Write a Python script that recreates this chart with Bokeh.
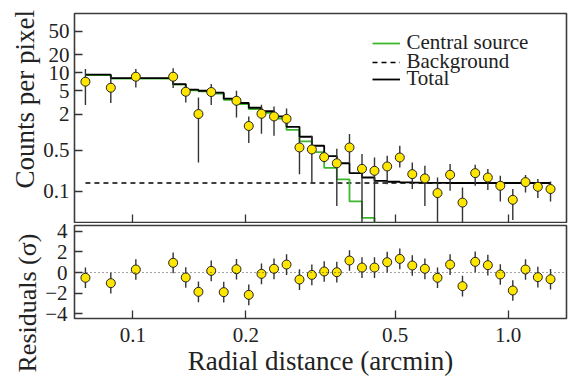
from bokeh.plotting import figure
from bokeh.layouts import column
from bokeh.models import (ColumnDataSource, FixedTicker, Legend, LegendItem,
                          Range1d, Span, Title)
from bokeh.embed import file_html
from bokeh.resources import INLINE

# ---------------- data ----------------
radius = [0.0748, 0.0874, 0.1019, 0.1281, 0.1384, 0.1496, 0.1618, 0.1747,
          0.1889, 0.2037, 0.2202, 0.2378, 0.2568, 0.2780, 0.2999, 0.3235,
          0.3495, 0.3778, 0.4079, 0.4404, 0.4761, 0.5143, 0.5553, 0.5999,
          0.6482, 0.7002, 0.7555, 0.8168, 0.8826, 0.9528, 1.0285, 1.1120,
          1.1994, 1.2964]
counts = [7.08, 5.61, 8.6, 8.6, 4.8, 2.02, 4.75, float("nan"),
          3.38, 1.27, 2.04, 1.84, 1.68, 0.552, 0.511, 0.38,
          0.299, 0.552, 0.241, 0.223, 0.264, 0.374, 0.196, 0.166,
          0.094, 0.191, 0.065, 0.204, 0.172, 0.125, 0.0724, 0.144,
          0.120, 0.110]
counts_hi = [11.6, 8.6, 11.6, 11.9, 6.06, 3.85, 6.47, float("nan"),
             4.99, 1.84, 2.9, 2.71, 2.51, 0.814, 0.869, 0.46,
             0.525, 0.929, 0.427, 0.374, 0.40, 0.59, 0.308, 0.271,
             0.172, 0.29, 0.117, 0.282, 0.239, 0.184, 0.110, 0.189,
             0.162, 0.147]
counts_lo = [2.86, 3.1, 5.67, 5.54, 3.17, 0.308, 2.86, float("nan"),
             1.77, 0.655, 0.94, 0.87, 1.28, 0.196, 0.142, 0.31,
             0.057, 0.297, 0.01, 0.01, 0.133, 0.254, 0.11, 0.057,
             0.01, 0.103, 0.01, 0.125, 0.106, 0.068, 0.033, 0.096,
             0.0774, 0.068]
model_total = [9.29, 8.11, 8.11, 6.47, 5.19, 4.99, 4.62, 3.66,
               3.10, 2.58, 2.25, 1.84, 1.23, 0.836, 0.59, 0.393,
               0.299, 0.204, 0.172, 0.151, 0.146, 0.142, 0.141, 0.140,
               0.140, 0.139, 0.139, 0.139, 0.139, 0.139, 0.139, 0.139,
               0.139, 0.139]
model_central = [9.15, 7.97, 7.97, 6.33, 5.05, 4.85, 4.48, 3.52,
                 2.96, 2.44, 2.11, 1.70, 1.09, 0.70, 0.46, 0.25,
                 0.16, 0.068, 0.036, 0.012, 0.006]
background = [0.1386] * len(radius)
residuals = [-0.51, -1.03, 0.29, 0.94, -0.48, -1.87, 0.16, -1.90,
             0.32, -2.16, -0.13, 0.36, 0.77, -0.68, -0.23, 0.10,
             0.03, 1.16, 0.48, 0.48, 1.00, 1.32, 0.68, 0.36,
             -0.51, 0.77, -1.32, 1.03, 0.71, -0.19, -1.74, 0.29,
             -0.45, -0.65]
residual_err = [1.0] * len(radius)

x_ticks = [0.1, 0.2, 0.5, 1.0]
x_tick_labels = ["0.1", "0.2", "0.5", "1.0"]
y_ticks_top = [0.1, 0.5, 2, 5, 10, 20, 50]
y_tick_labels_top = ["0.1", "0.5", "2", "5", "10", "20", "50"]
y_ticks_res = [-4, -2, 0, 2, 4]
y_tick_labels_res = ["\u22124", "\u22122", "0", "2", "4"]

legend_labels = ["Central source", "Background", "Total"]
y_title_top = "Counts per pixel"
y_title_res = "Residuals (\u03c3)"
x_title = "Radial distance (arcmin)"

# ---------------- styling ----------------
FONT = "Liberation Serif"
FRAME = "#3c3c3c"
TXT = "#222222"
YELLOW = "#ffe600"
GREEN = "#3cb82e"


def key(t):
    return int(t) if float(t).is_integer() else t


def style_axis(ax, ticks, labels, show_labels=True):
    ax.ticker = FixedTicker(ticks=[key(t) for t in ticks])
    if show_labels:
        ax.major_label_overrides = {key(t): l for t, l in zip(ticks, labels)}
        ax.major_label_text_font_size = "21px"
    else:
        ax.major_label_overrides = {key(t): "" for t in ticks}
        ax.major_label_text_font_size = "1px"
        ax.major_label_standoff = 0
    ax.major_tick_in = 8
    ax.major_tick_out = 0
    ax.minor_tick_line_color = None
    ax.major_tick_line_color = "#333333"
    ax.major_tick_line_width = 1.3
    ax.axis_line_color = None
    ax.major_label_text_font = FONT
    ax.major_label_text_color = TXT


def y_title(text, size, offset):
    return Title(text=text, align="left", offset=offset,
                 vertical_align="middle", standoff=0,
                 text_font=FONT, text_font_size=size,
                 text_font_style="normal", text_color=TXT)


x_range = Range1d(0.06995, 1.4298)

# ---------------- top panel ----------------
p1 = figure(width=568, height=223, x_axis_type="log", y_axis_type="log",
            x_range=x_range, y_range=Range1d(0.03, 100),
            output_backend="svg", toolbar_location=None,
            min_border_left=74, min_border_right=2, min_border_top=13,
            min_border_bottom=1)
p1.grid.visible = False
p1.outline_line_color = FRAME
p1.outline_line_width = 1.6
style_axis(p1.xaxis[0], x_ticks, x_tick_labels, show_labels=False)
style_axis(p1.yaxis[0], y_ticks_top, y_tick_labels_top)
p1.yaxis.major_label_standoff = 5

src = ColumnDataSource(dict(x=radius, y=counts, hi=counts_hi, lo=counts_lo))
r_bg = p1.line(radius, background, line_color="black", line_width=1.5,
               line_dash="5 4")
r_central = p1.step(radius[:len(model_central)], model_central, mode="after",
                    line_color=GREEN, line_width=1.8)
r_total = p1.step(radius, model_total, mode="after", line_color="black",
                  line_width=1.8)
p1.segment(x0="x", y0="lo", x1="x", y1="hi", source=src,
           line_color="#333333", line_width=1.4)
p1.scatter(x="x", y="y", source=src, size=9, fill_color=YELLOW,
           line_color="#222222", line_width=1)

# one legend per row so that the rows sit exactly where the reference has them
for lbl, rend, vy in zip(legend_labels, [r_central, r_bg, r_total],
                         [167, 148, 131]):
    p1.add_layout(Legend(items=[LegendItem(label=lbl, renderers=[rend])],
                         location=(297.5, vy), border_line_color=None,
                         background_fill_alpha=0, padding=0, margin=0,
                         glyph_width=28, glyph_height=16, label_height=16,
                         label_standoff=7, label_text_font=FONT,
                         label_text_font_size="21px", label_text_color=TXT))

p1.add_layout(y_title(y_title_top, "27px", 34), "left")

# ---------------- residual panel ----------------
p2 = figure(width=568, height=155, x_axis_type="log",
            x_range=x_range, y_range=Range1d(-4.45, 4.55),
            output_backend="svg", toolbar_location=None,
            min_border_left=74, min_border_right=2, min_border_top=2,
            min_border_bottom=60)
p2.grid.visible = False
p2.outline_line_color = FRAME
p2.outline_line_width = 1.6
style_axis(p2.xaxis[0], x_ticks, x_tick_labels)
style_axis(p2.yaxis[0], y_ticks_res, y_tick_labels_res)
p2.yaxis.major_label_standoff = 7
p2.xaxis.major_label_standoff = 9
p2.xaxis.axis_label = x_title
p2.xaxis.axis_label_standoff = 1
p2.xaxis.axis_label_text_font = FONT
p2.xaxis.axis_label_text_font_size = "27px"
p2.xaxis.axis_label_text_font_style = "normal"
p2.xaxis.axis_label_text_color = TXT

p2.add_layout(Span(location=0, dimension="width", line_color="#444444",
                   line_width=1, line_dash="1 3"))
rsrc = ColumnDataSource(dict(x=radius, y=residuals,
                             lo=[r - e for r, e in zip(residuals, residual_err)],
                             hi=[r + e for r, e in zip(residuals, residual_err)]))
p2.segment(x0="x", y0="lo", x1="x", y1="hi", source=rsrc,
           line_color="#333333", line_width=1.4)
p2.scatter(x="x", y="y", source=rsrc, size=9, fill_color=YELLOW,
           line_color="#222222", line_width=1)
p2.add_layout(y_title(y_title_res, "26px", -54), "left")

layout = column(p1, p2, spacing=0)
open("out.html", "w").write(file_html(layout, INLINE))
